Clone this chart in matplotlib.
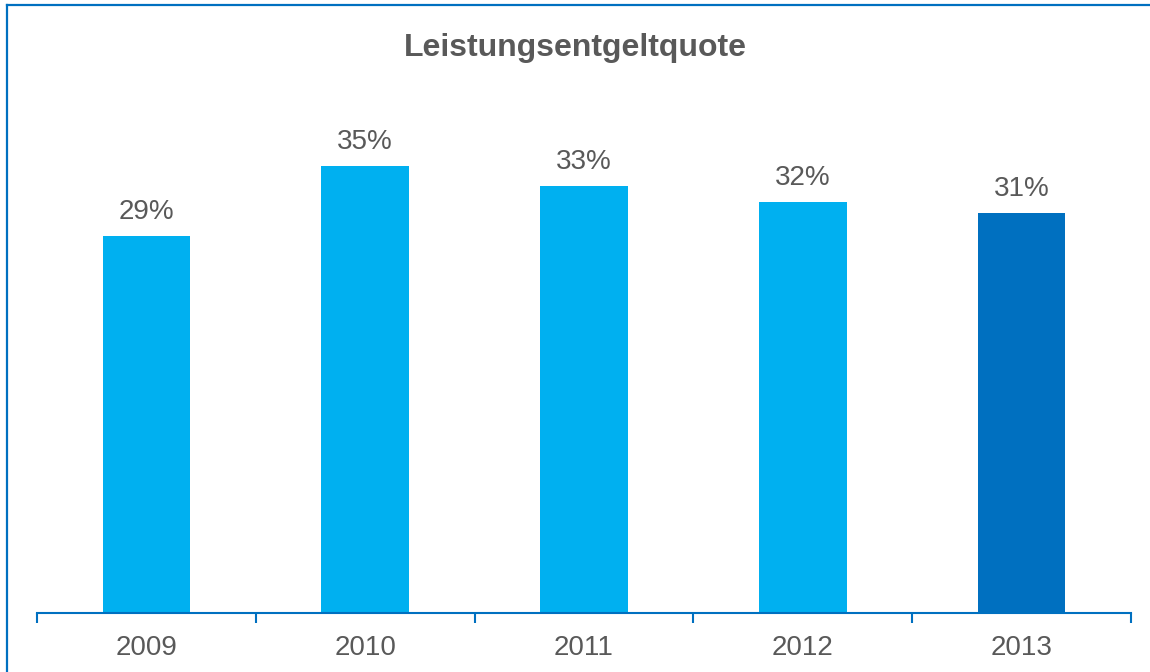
import matplotlib.pyplot as plt
from matplotlib.lines import Line2D

years = ['2009', '2010', '2011', '2012', '2013']
quote = [0.293, 0.347, 0.332, 0.319, 0.311]
bar_colors = ['#00B0F0', '#00B0F0', '#00B0F0', '#00B0F0', '#0070C0']

plt.rcParams['font.family'] = ['Liberation Sans', 'DejaVu Sans']
grey = '#595959'
blue = '#0070C0'

fig = plt.figure(figsize=(11.5, 6.72), dpi=100)
ax = fig.add_axes([37 / 1150, 59 / 672, 1094 / 1150, 514.8 / 672])

x = range(len(years))
bars = ax.bar(x, quote, width=0.4, color=bar_colors)

# data labels above the bars
for b, v in zip(bars, quote):
    ax.annotate('{:.0%}'.format(v), (b.get_x() + b.get_width() / 2, v),
                xytext=(0, 8), textcoords='offset points',
                ha='center', va='bottom', fontsize=20, color=grey)

ax.set_xlim(-0.5, len(years) - 0.5)
ax.set_ylim(0, 0.4)

# labels at the centres, tick marks between categories
ax.set_xticks(list(x))
ax.set_xticklabels(years, fontsize=20, color=grey)
ax.tick_params(axis='x', which='major', length=0, pad=16)
ax.set_xticks([i - 0.5 for i in range(len(years) + 1)], minor=True)
ax.tick_params(axis='x', which='minor', length=7, width=1.5, color=blue, direction='out')
ax.set_yticks([])

for s in ['top', 'right', 'left']:
    ax.spines[s].set_visible(False)
ax.spines['bottom'].set_color(blue)
ax.spines['bottom'].set_linewidth(1.5)

fig.text(0.5, 1 - 48 / 672, 'Leistungsentgeltquote', ha='center', va='center',
         fontsize=23, fontweight='bold', color=grey)

# frame: only top and left edge visible
fig.add_artist(Line2D([7 / 1150, 7 / 1150], [0, 1 - 5 / 672], color=blue, lw=1.6, transform=fig.transFigure))
fig.add_artist(Line2D([7 / 1150, 1], [1 - 5 / 672, 1 - 5 / 672], color=blue, lw=1.6, transform=fig.transFigure))

plt.savefig('out.png', dpi=100)
